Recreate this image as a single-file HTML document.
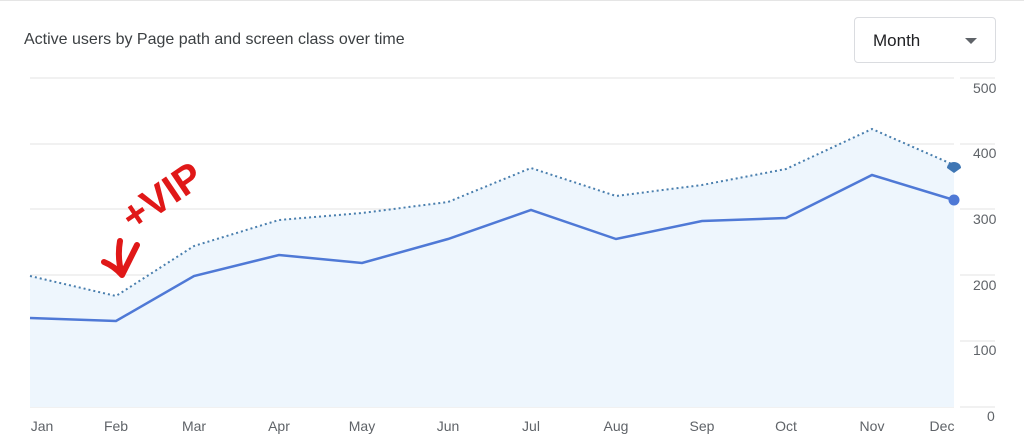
<!DOCTYPE html>
<html><head><meta charset="utf-8"><style>
body{margin:0;background:#fff;font-family:"Liberation Sans",sans-serif;}
.wrap{position:relative;width:1024px;height:444px;overflow:hidden}
.top{position:absolute;left:0;top:0;width:1024px;height:1px;background:#e5e5e5}
.title{position:absolute;left:24px;top:31px;font-size:16px;color:#3c4043}
.dd{position:absolute;left:854px;top:17px;width:142px;height:46px;border:1px solid #dadce0;border-radius:4px;box-sizing:border-box}
.dd span{position:absolute;left:18px;top:13px;font-size:17px;color:#202124}
.dd i{position:absolute;right:18px;top:20px;border-left:6px solid transparent;border-right:6px solid transparent;border-top:6px solid #5f6368}
</style></head><body><div class="wrap"><div class="top"></div>
<div class="title">Active users by Page path and screen class over time</div>
<div class="dd"><span>Month</span><i></i></div>
<svg width="1024" height="444" style="position:absolute;left:0;top:0">
<g stroke="#e3e3e3" stroke-width="1">
<line x1="30" y1="78" x2="954" y2="78"/><line x1="30" y1="144" x2="954" y2="144"/>
<line x1="30" y1="209" x2="954" y2="209"/><line x1="30" y1="275" x2="954" y2="275"/>
<line x1="30" y1="341" x2="954" y2="341"/><line x1="30" y1="407" x2="954" y2="407"/>
<line x1="960" y1="78" x2="995" y2="78"/><line x1="960" y1="144" x2="995" y2="144"/>
<line x1="960" y1="209" x2="995" y2="209"/><line x1="960" y1="275" x2="995" y2="275"/>
<line x1="960" y1="341" x2="995" y2="341"/><line x1="960" y1="407" x2="995" y2="407"/>
</g>
<polygon fill="#eef6fd" points="30,276 116,296 194,246 279,220 362,213 448,202 531,168 616,196 702,185 786,169 872,129 954,165 954,407 30,407"/>
<polyline fill="none" stroke="#4a7fae" stroke-width="2" stroke-dasharray="2,3" points="30,276 116,296 194,246 279,220 362,213 448,202 531,168 616,196 702,185 786,169 872,129 954,165"/>
<polyline fill="none" stroke="#4f79d6" stroke-width="2.5" points="30,318 116,321 194,276 279,255 362,263 448,239 531,210 616,239 702,221 786,218 872,175 954,200"/>
<circle cx="954" cy="200" r="5.5" fill="#4f79d6"/>
<path d="M947,168 a7,6 0 0 1 14,0 l-7,5 z" fill="#3f76b4"/>
<g font-size="14" fill="#5f6368">
<text x="973" y="93">500</text><text x="973" y="158">400</text><text x="973" y="224">300</text>
<text x="973" y="290">200</text><text x="973" y="355">100</text><text x="987" y="421">0</text>
</g>
<g font-size="14" fill="#5f6368" text-anchor="middle">
<text x="42" y="431">Jan</text><text x="116" y="431">Feb</text><text x="194" y="431">Mar</text>
<text x="279" y="431">Apr</text><text x="362" y="431">May</text><text x="448" y="431">Jun</text>
<text x="531" y="431">Jul</text><text x="616" y="431">Aug</text><text x="702" y="431">Sep</text>
<text x="786" y="431">Oct</text><text x="872" y="431">Nov</text><text x="942" y="431">Dec</text>
</g>
<path d="M120,241 Q117,258 122,275 M104,262 Q114,266 122,275 L137,245" fill="none" stroke="#e01818" stroke-width="6" stroke-linecap="round" stroke-linejoin="round"/>
<text x="0" y="0" transform="translate(133,232) rotate(-34)" font-size="40" font-weight="bold" fill="#e01818">+VIP</text>
</svg>
</div></body></html>
